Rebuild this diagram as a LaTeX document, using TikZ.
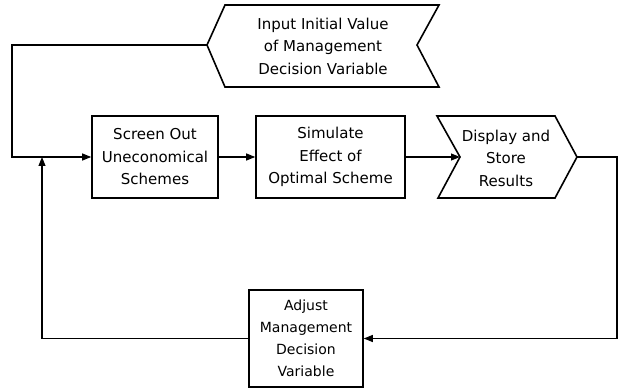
\documentclass[tikz,border=0pt]{standalone}
\usepackage{fontspec}
\setmainfont{DejaVu Sans}
\usetikzlibrary{arrows.meta}
\begin{document}
\begin{tikzpicture}[x=1pt,y=-1pt,
  lbl/.style={align=center,font=\fontsize{15}{22.5}\selectfont,inner sep=0pt},
  boxst/.style={lbl,draw,line width=1.6pt},
  outline/.style={draw,line width=1.6pt,line join=miter},
  conn/.style={line width=1.1pt},
  arr/.style={conn,-{Triangle[length=9pt,width=7pt]}}]
\useasboundingbox (0,0) rectangle (618,390);
% Input shape
\draw[outline] (207,45) -- (225,5) -- (439,5) -- (417,45) -- (439,87) -- (225,87) -- cycle;
\coordinate (inpL) at (207,45);
\node[lbl] (inp) at (323,46) {Input Initial Value\\of Management\\Decision Variable};
% process boxes
\node[boxst,minimum width=126pt,minimum height=82pt] (b1) at (155,157) {Screen Out\\Uneconomical\\Schemes};
\node[boxst,minimum width=149pt,minimum height=82pt] (b2) at (330.5,157) {Simulate\\Effect of\\Optimal Scheme};
% display shape
\draw[outline] (437,116) -- (555,116) -- (577,157) -- (555,198) -- (438,198) -- (460,157) -- cycle;
\coordinate (dispL) at (460,157);
\coordinate (dispR) at (577,157);
\node[lbl] (disp) at (506,158) {Display and\\Store\\Results};
% adjust box
\node[boxst,font=\fontsize{14}{22}\selectfont,minimum width=114pt,minimum height=97pt] (adj) at (306,338.5) {Adjust\\Management\\Decision\\Variable};
% helper coordinates
\coordinate (cl) at (12,100);
\coordinate (jn) at (42,157);
\coordinate (cr) at (617,250);
% connectors
\draw[arr] (inpL) -| (cl) |- (b1.west);
\draw[arr] (b1.east) -- (b2.west);
\draw[arr] (b2.east) -- (dispL);
\draw[arr] (dispR) -| (cr) |- (adj.east);
\draw[arr] (adj.west) -| (jn);
\end{tikzpicture}
\end{document}
